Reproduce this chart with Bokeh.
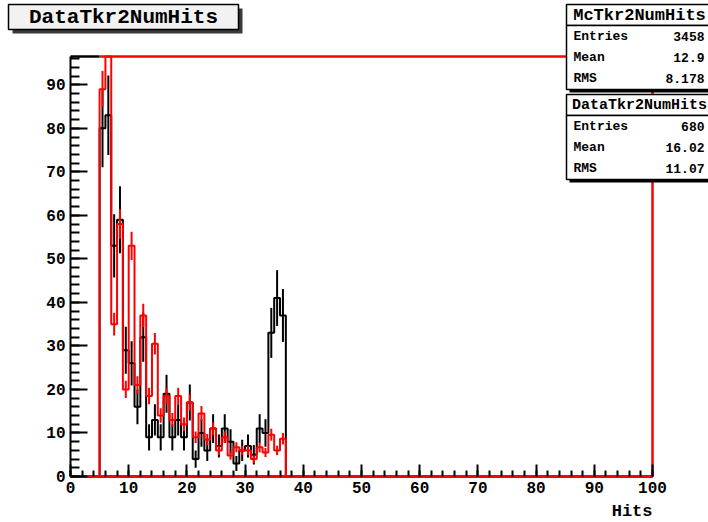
import numpy as np
from bokeh.plotting import figure
from bokeh.models import Range1d, FixedTicker
from bokeh.core.properties import value
from bokeh.embed import file_html
from bokeh.resources import INLINE

# ---------------- data ----------------
hist_title = "DataTkr2NumHits"
x_title = "Hits"
bin_low = list(range(5, 37))          # left edges of the filled bins (width 1)
data_counts = [80, 83, 53, 59, 29, 26, 16, 32,
               9, 13, 9, 19, 9, 13, 9, 17,
               4, 10, 6, 11, 7, 11, 8, 3,
               6, 7, 5, 11, 10, 33, 41, 37]
mc_scaled = [89, 103, 35, 58, 20, 53, 21, 37,
             18.5, 30.5, 14, 18.5, 13, 18.5, 12, 17,
             9, 14.5, 8.5, 11, 6, 9, 4.8, 6.7,
             6, 6, 4, 6.7, 5.5, 9.6, 6, 8.7]
x_ticks = [0, 10, 20, 30, 40, 50, 60, 70, 80, 90, 100]
y_ticks = [0, 10, 20, 30, 40, 50, 60, 70, 80, 90]
mc_name = "McTkr2NumHits"
mc_stats_names = ["Entries", "Mean", "RMS"]
mc_stats_vals = ["3458", "12.9", "8.178"]
data_name = "DataTkr2NumHits"
data_stats_names = ["Entries", "Mean", "RMS"]
data_stats_vals = ["680", "16.02", "11.07"]

# ---------------- layout ----------------
W, H = 708, 522
FL, FR, FT, FB = 70, 652, 56, 476     # histogram frame, canvas pixels
X0, X1 = 0, 100
Y0, Y1 = 0, 96.5
FONT = "Liberation Mono"


def dx(px):
    return X0 + (px - FL) / (FR - FL) * (X1 - X0)


def dy(py):
    return Y0 + (FB - py) / (FB - FT) * (Y1 - Y0)


p = figure(width=W, height=H, x_range=Range1d(dx(0), dx(W)), y_range=Range1d(dy(H), dy(0)),
           output_backend="svg", toolbar_location=None, title=None, min_border=0)
p.xgrid.visible = False
p.ygrid.visible = False
p.background_fill_color = "white"
p.border_fill_color = "white"
p.outline_line_color = None


def step_xy(lows, vals):
    xs, ys = [lows[0]], [0]
    for lo, v in zip(lows, vals):
        xs += [lo, lo + 1]
        ys += [v, v]
    xs.append(lows[-1] + 1)
    ys.append(0)
    return xs, ys


centers = np.array(bin_low) + 0.5
dc = np.array(data_counts, dtype=float)
dc_err = np.sqrt(dc)
mc = np.array(mc_scaled, dtype=float)
mc_scale = float(data_stats_vals[0]) / float(mc_stats_vals[0])
mc_err = np.sqrt(mc * mc_scale)

# frame: black top at the left, the rest traced in red
p.line([X0, bin_low[0]], [Y1, Y1], color="black", line_width=2.5)
p.line([bin_low[0], X1, X1], [Y1, Y1, Y0], color="red", line_width=2.5)
p.line([X0, X1], [Y0, Y0], color="red", line_width=3)

# data histogram (black), clipped at the frame top as ROOT does
bx, by = step_xy(bin_low, data_counts)
p.line(bx, np.minimum(by, Y1), color="black", line_width=2)
p.segment(x0=centers, y0=np.minimum(dc - dc_err, Y1), x1=centers, y1=np.minimum(dc + dc_err, Y1),
          color="black", line_width=2)

# MC histogram (red, normalised to data)
rx, ry = step_xy(bin_low, mc_scaled)
p.line(rx, np.minimum(ry, Y1), color="red", line_width=2)
p.segment(x0=centers, y0=np.minimum(mc - mc_err, Y1), x1=centers, y1=np.minimum(mc + mc_err, Y1),
          color="red", line_width=2)

# ---------------- axes (drawn at the frame edges) ----------------
p.xaxis.fixed_location = Y0
p.yaxis.fixed_location = X0
p.xaxis.bounds = (X0, X1)
p.yaxis.bounds = (Y0, Y1)
p.xaxis.ticker = FixedTicker(ticks=x_ticks, minor_ticks=list(range(0, 101, 2)))
p.yaxis.ticker = FixedTicker(ticks=y_ticks, minor_ticks=list(range(0, 97, 2)))
for ax, maj, mnr in ((p.xaxis, 12, 6), (p.yaxis, 17, 9)):
    ax.major_tick_in = maj
    ax.major_tick_out = 0
    ax.minor_tick_in = mnr
    ax.minor_tick_out = 0
    ax.major_tick_line_width = 2
    ax.minor_tick_line_width = 2
    ax.major_tick_line_color = "black"
    ax.minor_tick_line_color = "black"
    ax.major_label_text_font = FONT
    ax.major_label_text_font_style = "bold"
    ax.major_label_text_font_size = "16px"
    ax.major_label_text_color = "black"
    ax.major_label_standoff = 5
p.xaxis.axis_line_color = "red"
p.xaxis.axis_line_width = 3
p.yaxis.axis_line_color = "black"
p.yaxis.axis_line_width = 2

p.text(x=[X1], y=[dy(511)], text=[x_title], text_align="right", text_baseline="middle",
       text_font=value(FONT), text_font_style="bold", text_font_size="17px", text_color="black")

# ---------------- title box ----------------
p.quad(left=[dx(12)], right=[dx(242)], top=[dy(8)], bottom=[dy(33)],
       fill_color="#3a3a3a", line_color=None)
p.quad(left=[dx(8)], right=[dx(238)], top=[dy(4)], bottom=[dy(29)],
       fill_color="#f2f2f2", line_color="black", line_width=1.5)
p.text(x=[dx(123)], y=[dy(17)], text=[hist_title], text_align="center", text_baseline="middle",
       text_font=value(FONT), text_font_style="bold", text_font_size="21px", text_color="black")


# ---------------- stats boxes ----------------
def stats_box(top, name, names, vals, title_size):
    left, right = 566, 712
    sep = top + 21
    bottom = top + 85
    p.quad(left=[dx(left + 3)], right=[dx(right + 3)], top=[dy(top + 3)], bottom=[dy(bottom + 3)],
           fill_color="black", line_color=None)
    p.quad(left=[dx(left)], right=[dx(right)], top=[dy(top)], bottom=[dy(sep)],
           fill_color="white", line_color="black", line_width=1.5)
    p.quad(left=[dx(left)], right=[dx(right)], top=[dy(sep)], bottom=[dy(bottom)],
           fill_color="white", line_color="black", line_width=1.5)
    p.text(x=[dx(639)], y=[dy(top + 11)], text=[name], text_align="center", text_baseline="middle",
           text_font=value(FONT), text_font_style="bold", text_font_size=title_size, text_color="black")
    ys = [dy(sep + 11 + 21 * i) for i in range(len(names))]
    p.text(x=[dx(left + 7)] * len(names), y=ys, text=names, text_align="left", text_baseline="middle",
           text_font=value(FONT), text_font_style="bold", text_font_size="13px", text_color="black")
    p.text(x=[dx(704)] * len(vals), y=ys, text=vals, text_align="right", text_baseline="middle",
           text_font=value(FONT), text_font_style="bold", text_font_size="13px", text_color="black")


stats_box(4, mc_name, mc_stats_names, mc_stats_vals, "17px")
stats_box(94, data_name, data_stats_names, data_stats_vals, "15px")

open("out.html", "w").write(file_html(p, INLINE))
